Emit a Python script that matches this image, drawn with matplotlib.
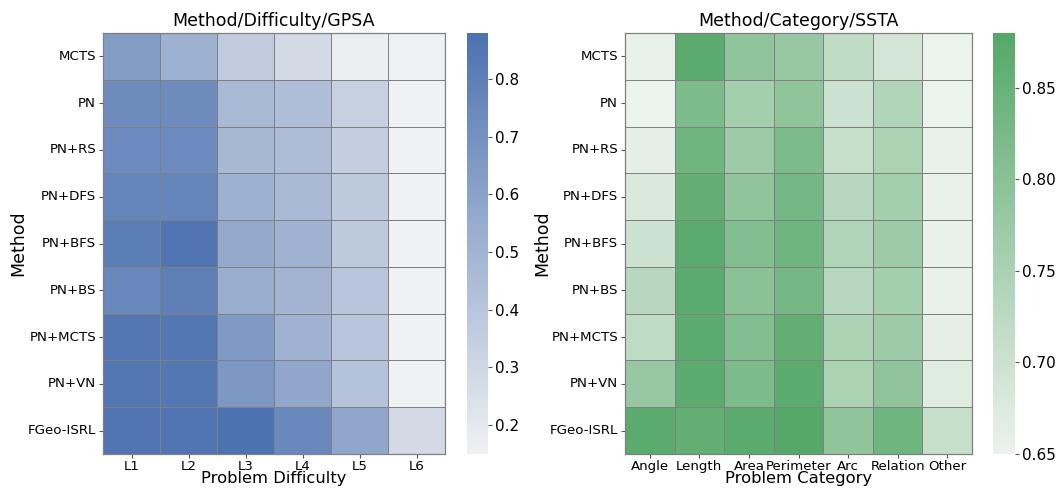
import numpy as np
import matplotlib
matplotlib.use("Agg")
import matplotlib.pyplot as plt
import seaborn as sns

methods = ["MCTS", "PN", "PN+RS", "PN+DFS", "PN+BFS", "PN+BS", "PN+MCTS", "PN+VN", "FGeo-ISRL"]
difficulties = ["L1", "L2", "L3", "L4", "L5", "L6"]
categories = ["Angle", "Length", "Area", "Perimeter", "Arc", "Relation", "Other"]

gpsa_mcts = [0.64, 0.52, 0.36, 0.28, 0.17, 0.155]
gpsa_pn = [0.73, 0.73, 0.47, 0.44, 0.34, 0.15]
gpsa_pn_rs = [0.74, 0.74, 0.48, 0.45, 0.35, 0.15]
gpsa_pn_dfs = [0.77, 0.77, 0.52, 0.47, 0.38, 0.15]
gpsa_pn_bfs = [0.81, 0.86, 0.56, 0.51, 0.38, 0.15]
gpsa_pn_bs = [0.75, 0.80, 0.54, 0.50, 0.40, 0.15]
gpsa_pn_mcts = [0.85, 0.85, 0.65, 0.51, 0.40, 0.15]
gpsa_pn_vn = [0.85, 0.85, 0.66, 0.58, 0.42, 0.15]
gpsa_fgeo = [0.86, 0.86, 0.88, 0.75, 0.58, 0.28]

ssta_mcts = [0.655, 0.87, 0.79, 0.78, 0.72, 0.69, 0.65]
ssta_pn = [0.65, 0.82, 0.76, 0.79, 0.70, 0.74, 0.65]
ssta_pn_rs = [0.66, 0.84, 0.77, 0.82, 0.71, 0.75, 0.655]
ssta_pn_dfs = [0.68, 0.86, 0.79, 0.83, 0.73, 0.76, 0.655]
ssta_pn_bfs = [0.70, 0.87, 0.81, 0.84, 0.74, 0.77, 0.655]
ssta_pn_bs = [0.73, 0.87, 0.80, 0.83, 0.73, 0.76, 0.655]
ssta_pn_mcts = [0.72, 0.87, 0.81, 0.86, 0.75, 0.77, 0.66]
ssta_pn_vn = [0.78, 0.87, 0.82, 0.87, 0.75, 0.79, 0.67]
ssta_fgeo = [0.87, 0.86, 0.87, 0.88, 0.79, 0.84, 0.71]

gpsa = np.array([gpsa_mcts, gpsa_pn, gpsa_pn_rs, gpsa_pn_dfs, gpsa_pn_bfs,
                 gpsa_pn_bs, gpsa_pn_mcts, gpsa_pn_vn, gpsa_fgeo])
ssta = np.array([ssta_mcts, ssta_pn, ssta_pn_rs, ssta_pn_dfs, ssta_pn_bfs,
                 ssta_pn_bs, ssta_pn_mcts, ssta_pn_vn, ssta_fgeo])

plt.rcParams['font.family'] = ['DejaVu Sans']

W, H = 1056, 491
fig = plt.figure(figsize=(W / 100, H / 100), dpi=100)

def box(x0, x1, y0, y1):
    return [x0 / W, (H - y1) / H, (x1 - x0) / W, (y1 - y0) / H]

TOP, BOT = 33, 454
ax1 = fig.add_axes(box(103, 445, TOP, BOT))
cax1 = fig.add_axes(box(467, 488, TOP, BOT))
ax2 = fig.add_axes(box(625, 972, TOP, BOT))
cax2 = fig.add_axes(box(993, 1015, TOP, BOT))

blue = sns.light_palette("#4c72b0", as_cmap=True)
green = sns.light_palette("#55a868", as_cmap=True)

sns.heatmap(gpsa, ax=ax1, cbar_ax=cax1, cmap=blue, linewidths=0.6, linecolor="gray",
            xticklabels=difficulties, yticklabels=methods)
sns.heatmap(ssta, ax=ax2, cbar_ax=cax2, cmap=green, linewidths=0.6, linecolor="gray",
            xticklabels=categories, yticklabels=methods)

xl_y = -(471.5 - BOT) / (BOT - TOP)
for ax, title, xl, cats, ylx in [(ax1, "Method/Difficulty/GPSA", "Problem Difficulty", difficulties, -0.222),
                                 (ax2, "Method/Category/SSTA", "Problem Category", categories, -0.213)]:
    ax.set_title(title, fontsize=12.5, pad=5)
    ax.set_xlabel(xl, fontsize=11.8)
    ax.set_ylabel("Method", fontsize=12.5)
    ax.tick_params(axis="both", labelsize=9.6, length=3, width=0.8, color="#555555", pad=2)
    ax.tick_params(axis="x", pad=1)
    ax.set_yticklabels(methods, rotation=0)
    ax.set_xticklabels(cats, rotation=0)
    ax.xaxis.set_label_coords(0.5, xl_y)
    ax.yaxis.set_label_coords(ylx, 0.5)
    for s in ax.spines.values():
        s.set_visible(True)
        s.set_color("gray")
        s.set_linewidth(0.9)

cax1.set_yticks([0.2, 0.3, 0.4, 0.5, 0.6, 0.7, 0.8])
cax2.set_yticks([0.65, 0.70, 0.75, 0.80, 0.85])
cax2.set_yticklabels(["0.65", "0.70", "0.75", "0.80", "0.85"])
for c in (cax1, cax2):
    c.tick_params(labelsize=11, length=3, width=0.8, color="#555555", pad=2)

fig.savefig("out.png", dpi=100)
